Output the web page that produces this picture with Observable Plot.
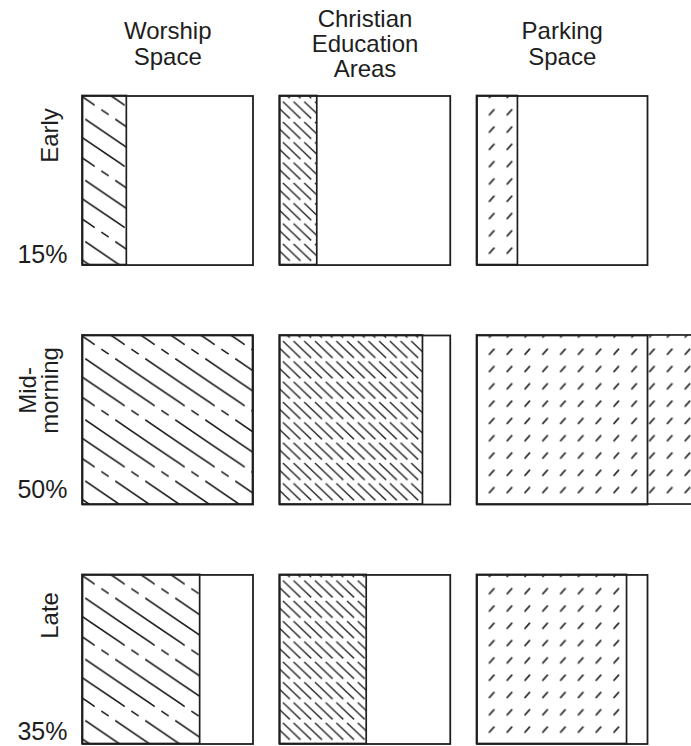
<!DOCTYPE html>
<html>
<head>
<meta charset="utf-8">
<script src="https://cdn.jsdelivr.net/npm/d3@7"></script>
<script src="https://cdn.jsdelivr.net/npm/@observablehq/plot@0.6"></script>
<style>
html, body { margin: 0; padding: 0; background: #fff; overflow: hidden; }
</style>
</head>
<body>
<div id="chart"></div>
<script>
// ---- data ----
const spaces = ["Worship Space", "Christian Education Areas", "Parking Space"];
const spaceLabels = ["Worship\nSpace", "Christian\nEducation\nAreas", "Parking\nSpace"];
const services = ["Early", "Mid-morning", "Late"];
const serviceLabels = ["Early", "Mid-\nmorning", "Late"];
const attendance = ["15%", "50%", "35%"];
const worshipUse = [0.26, 1.00, 0.69];
const educationUse = [0.22, 0.84, 0.51];
const parkingUse = [0.24, 1.30, 0.88];

// ---- layout / style ----
const ink = "#1e1e1e";
const patternIds = ["hatch-worship", "hatch-education", "hatch-parking"];
const rowLabelDy = [39.5, 55, 40.5];
const pctDy = [-2.5, -7, -4];
const font = "'Liberation Sans', Arial, Helvetica, sans-serif";

const useBySpace = [worshipUse, educationUse, parkingUse];
const table = services.flatMap((service, i) =>
  spaces.map((space, j) => ({service, space, use: useBySpace[j][i]}))
);

const marks = [];
spaces.forEach((space, j) => {
  marks.push(Plot.rect(table.filter(d => d.space === space), {
    fx: "space", fy: "service", x1: 0, x2: "use", y1: 0, y2: 1,
    fill: `url(#${patternIds[j]})`, stroke: ink, strokeWidth: 1.7
  }));
});
marks.push(Plot.frame({stroke: ink, strokeWidth: 1.8}));

// column headers
marks.push(Plot.text(spaces.map((space, j) => ({space, service: services[0], label: spaceLabels[j]})), {
  fx: "space", fy: "service", text: "label", frameAnchor: "top",
  dy: -52, lineAnchor: "middle", lineHeight: 1.05, fontSize: 24, fill: ink
}));

// row labels and percentages
services.forEach((service, i) => {
  marks.push(Plot.text([{space: spaces[0], service, label: serviceLabels[i]}], {
    fx: "space", fy: "service", text: "label", frameAnchor: "top-left",
    rotate: -90, textAnchor: "middle", lineAnchor: "bottom", lineHeight: 0.9,
    dx: -25, dy: rowLabelDy[i], fontSize: 24, fill: ink
  }));
  marks.push(Plot.text([{space: spaces[0], service, label: attendance[i]}], {
    fx: "space", fy: "service", text: "label", frameAnchor: "bottom-left",
    textAnchor: "end", lineAnchor: "bottom", dx: -15, dy: pctDy[i], fontSize: 25, fill: ink
  }));
});

const chart = Plot.plot({
  width: 691,
  height: 746,
  marginLeft: 82,
  marginRight: 44,
  marginTop: 95.5,
  marginBottom: 2.5,
  fx: {domain: spaces, paddingInner: 0.1356, paddingOuter: 0, axis: null, round: false},
  fy: {domain: services, paddingInner: 0.294, paddingOuter: 0, axis: null, round: false},
  x: {domain: [0, 1], axis: null},
  y: {domain: [0, 1], axis: null},
  style: {fontFamily: font, background: "white", color: ink},
  marks
});

// ---- hatch patterns ----
function diagPattern(defs, id, {spacing, slope, n, pieces, width, color}) {
  const h = spacing * slope, P = n * h;
  const p = defs.append("pattern").attr("id", id)
    .attr("patternUnits", "userSpaceOnUse").attr("width", spacing).attr("height", P);
  p.append("rect").attr("width", spacing).attr("height", P).attr("fill", "white");
  let d = "";
  const kmin = Math.floor((-2 * P / slope - spacing) / spacing) - 1;
  const kmax = Math.ceil((spacing + P / slope) / spacing) + 1;
  for (let k = kmin; k <= kmax; k++) {
    const c = k * spacing;
    for (let r = -1; r <= 1; r++) {
      for (const [a, b] of pieces) {
        const ya = a + r * P, yb = b + r * P;
        d += `M${(c + ya / slope).toFixed(2)},${ya.toFixed(2)}L${(c + yb / slope).toFixed(2)},${yb.toFixed(2)}`;
      }
    }
  }
  p.append("path").attr("d", d).attr("stroke", color).attr("stroke-width", width)
    .attr("fill", "none").attr("stroke-linecap", "butt");
}

const defs = d3.select(chart).insert("defs", ":first-child");
diagPattern(defs, patternIds[0], {spacing: 30, slope: 0.68, n: 3,
  pieces: [[0, 44], [48.5, 53.5], [58, 61.2]], width: 1.6, color: ink});
diagPattern(defs, patternIds[1], {spacing: 10.7, slope: 0.95, n: 2,
  pieces: [[0, 16.8]], width: 1.45, color: "#2a2a2a"});
{
  const w = 17.8, h = 17.3;
  const p = defs.append("pattern").attr("id", patternIds[2])
    .attr("patternUnits", "userSpaceOnUse").attr("width", w).attr("height", h);
  p.append("rect").attr("width", w).attr("height", h).attr("fill", "white");
  p.append("path").attr("d", "M6,11L10.5,6").attr("stroke", "#333")
    .attr("stroke-width", 1.8).attr("stroke-linecap", "round");
}

document.getElementById("chart").appendChild(chart);
</script>
</body>
</html>
